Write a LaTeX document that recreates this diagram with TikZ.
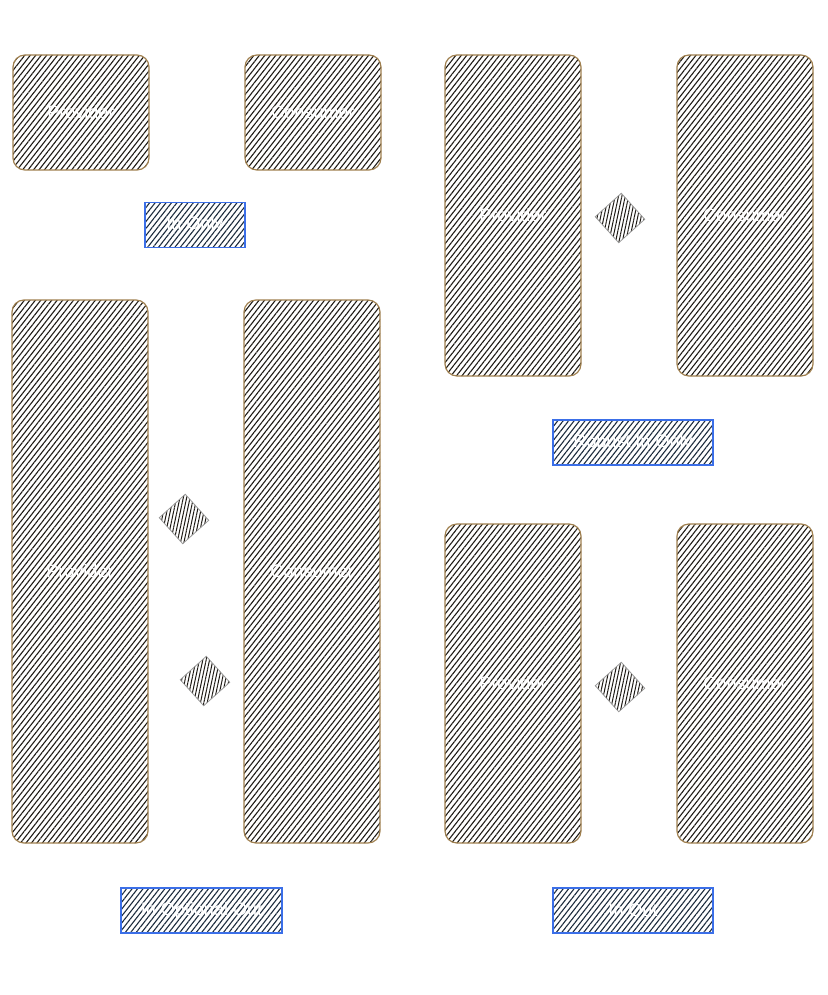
\documentclass[tikz,border=0pt]{standalone}
\usepackage{fontspec}
\setmainfont{Liberation Sans}
\usetikzlibrary{patterns.meta}
\definecolor{boxborder}{HTML}{A0804F}
\definecolor{hatch}{HTML}{1E1A15}
\definecolor{tagborder}{HTML}{3B6FE8}
\definecolor{taghatch}{HTML}{1C2B3C}
\definecolor{diaborder}{HTML}{9A9A9A}
\tikzset{
  party/.style={draw=boxborder, line width=1.2pt, rounded corners=12pt,
    pattern={Lines[angle=52,distance=4.3pt,line width=1.1pt]}, pattern color=hatch,
    minimum width=136pt, inner sep=0pt, outer sep=0pt,
    text=white, font=\fontsize{18}{20}\selectfont},
  tag/.style={draw=tagborder, line width=1.2pt,
    pattern={Lines[angle=52,distance=4.3pt,line width=1.1pt]}, pattern color=taghatch,
    minimum height=45pt, inner sep=0pt, outer sep=0pt,
    text=white, font=\fontsize{18}{20}\selectfont},
  msg/.style={draw=diaborder, line width=0.8pt, rotate=42,
    pattern={Lines[angle=78,distance=3.3pt,line width=1pt]}, pattern color=hatch,
    minimum width=35pt, minimum height=35pt, inner sep=0pt, outer sep=0pt}
}
\begin{document}
\begin{tikzpicture}[x=1pt,y=-1pt]
\useasboundingbox (0,0) rectangle (827,995);
% In Only
\node[party, minimum height=115pt] (p1) at (81,112.5) {Provider};
\node[party, minimum height=115pt] (c1) at (313,112.5) {Consumer};
\node[tag, minimum width=100pt] (t1) at (195,225) {In Only};
% Robust In Only
\node[party, minimum height=321pt] (p2) at (513,215.5) {Provider};
\node[party, minimum height=321pt] (c2) at (745,215.5) {Consumer};
\node[msg] (m2) at (620,218) {};
\node[tag, minimum width=160pt] (t2) at (633,442.5) {Robust In Only};
% In Optional Out
\node[party, minimum height=543pt] (p3) at (80,571.5) {Provider};
\node[party, minimum height=543pt] (c3) at (312,571.5) {Consumer};
\node[msg] (m3a) at (184,519) {};
\node[msg] (m3b) at (205,681) {};
\node[tag, minimum width=161pt] (t3) at (201.5,910.5) {In Optional Out};
% In Out
\node[party, minimum height=319pt] (p4) at (513,683.5) {Provider};
\node[party, minimum height=319pt] (c4) at (745,683.5) {Consumer};
\node[msg] (m4) at (620,687) {};
\node[tag, minimum width=160pt] (t4) at (633,910.5) {In Out};
\end{tikzpicture}
\end{document}
